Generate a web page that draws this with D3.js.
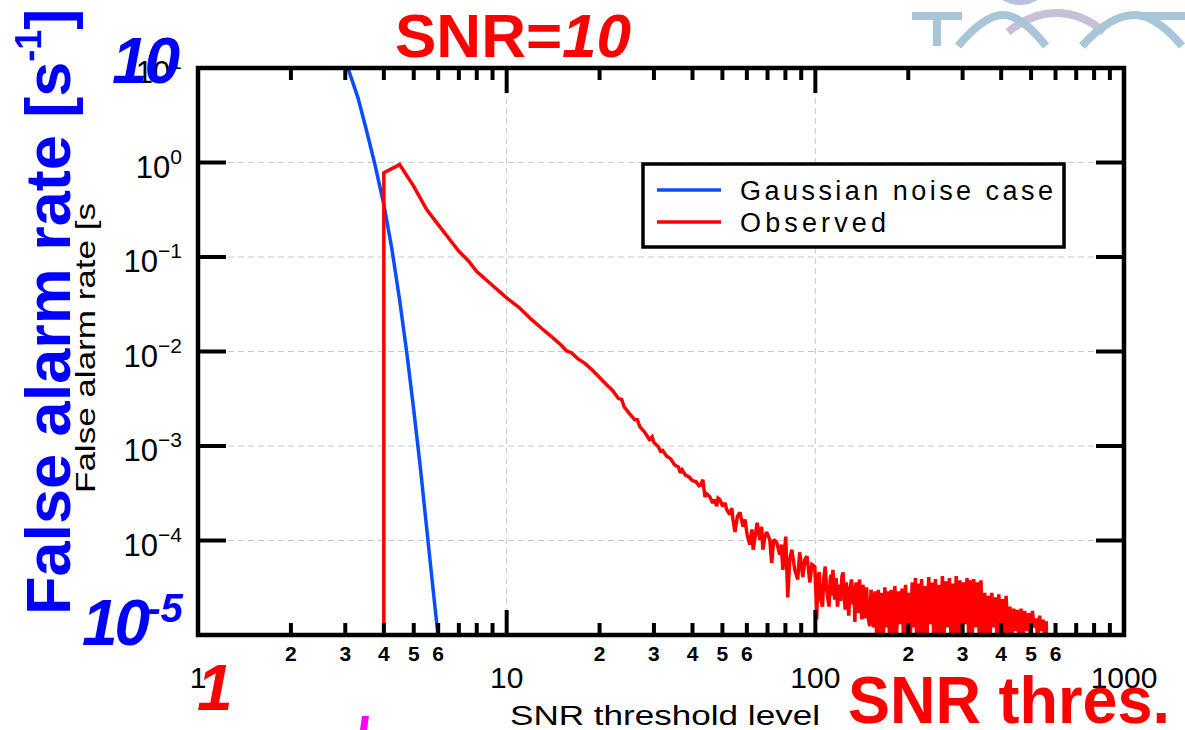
<!DOCTYPE html>
<html><head><meta charset="utf-8">
<script src="https://cdn.jsdelivr.net/npm/d3@7"></script>
<style>body{margin:0;background:#fff;overflow:hidden}</style>
</head><body>
<svg id="c" width="1185" height="730"></svg>
<script>
// ---------- data ----------
const xMajorTicks = [1, 10, 100, 1000];
const xMinorLabelDigits = [2, 3, 4, 5, 6];
const yTickExponents = [1, 0, -1, -2, -3, -4];
const legendLabels = ["Gaussian noise case", "Observed"];

const gaussianNoise = [
  [3.0,12.5],[3.06,10],[3.3,4.8],[3.5,2.3],[3.73,1.0],[4.0,0.36],[4.25,0.12],[4.5,0.035],
  [4.75,0.0095],[5.0,0.0024],[5.25,0.0006],[5.5,0.00014],[5.75,0.000035],[6.0,0.0000095]
];

const observed = [
  [4,1e-6],[4,0.78],[4.5,0.95],[5,0.56],[5.5,0.32],[6,0.22],[6.5,0.157],[7,0.115],[7.5,0.092],[8,0.07],
  [9,0.05],[10,0.037],[11,0.029],[12,0.022],[13,0.0175],[14,0.0143],[15,0.0117],[15.6,0.0102],[16.2,0.0097],
  [17,0.0084],[18,0.0074],[19,0.0063],[20,0.0053],[21,0.0045],[22,0.0039],[23,0.0032],[23.6,0.0031],
  [24,0.0026],[25,0.0022],[26,0.0019],[26.5,0.0019],[27,0.0016],[28,0.0014],[29,0.00117],[29.6,0.00125],
  [30,0.00109],[31,0.00098],[31.5,0.00088],[32,0.0009],[33,0.00078],[34,0.00073],[35,0.00063],[36,0.0006],
  [36.5,0.00052],[37,0.00056],[38,0.00049],[39,0.00047],[40,0.00043],[41,0.00042],[42,0.00038],
  [42.6,0.00039],[43.2,0.00044],[43.9,0.00029],[44.6,0.00031],[45.5,0.00029],[46.5,0.00025],[47.2,0.00027],
  [47.9,0.00023],[48.4,0.00028],[49.1,0.00027],[50.1,0.00023],[51,0.00025],[51.6,0.000213],[52.8,0.000188],
  [53.6,0.00022],[54.1,0.000167],[54.9,0.000123],[55.9,0.00018],[57,0.000198],[58.3,0.00014],[59.2,0.000167],
  [60.1,0.000116],[61.3,0.0000907],[62.3,0.000131],[62.9,0.00008],[64.8,0.000154],[66.1,0.000102],
  [67,0.00014],[67.6,0.00008],[68.7,0.00011],[69.5,0.000123],[71.2,0.000102],[72.2,0.000058],[73.3,0.000102],
  [74.9,0.000096],[76.7,0.000071],[77.6,0.0000907],[78.5,0.000049],[80.2,0.00011],[81.4,0.000025],
  [82.6,0.000063],[83.9,0.00008],[85.8,0.000049],[87.7,0.0000387],[88.5,0.00006],[89,0.000075],
  [91.1,0.000041],[92.5,0.000063],[94,0.000068],[96,0.000036],[97.5,0.0000557],[99.6,0.000053],
  [100.5,2.6e-5],[101,1.46e-5],[102,4.2e-5],[103,4.6e-5],[104,2.4e-5],[105.5,2.0e-5],[106.5,4.0e-5],
  [107.7,5.3e-5],[108.8,3.0e-5],[109.9,2.37e-5],[110.8,2.0e-5],[111.7,3.8e-5],[112.5,4.37e-5],[113.3,2.6e-5],
  [114,4.9e-5],[115,3.2e-5],[115.5,2.37e-5],[116.8,4.0e-5],[118,2.0e-5],[119.6,3.42e-5],[120.8,2.3e-5],
  [122,4.2e-5],[123,4.6e-5],[124,2.8e-5],[124.9,1.86e-5],[126,3.6e-5],[127,2.6e-5],[128.3,1.6e-5],
  [129.5,3.03e-5],[131,3.87e-5],[132.5,2.1e-5],[133.5,3.3e-5],[134.3,1.37e-5],[135.3,3.6e-5],[136.2,3.03e-5],
  [137.5,1.7e-5],[139,3.87e-5],[140.3,2.4e-5],[141.5,1.46e-5],[142.5,3.4e-5],[143.5,2.95e-5],[144.3,1.5e-5],
  [145,2.68e-5],[146.5,3.2e-5],[148,1.6e-5],[150,1.24e-5],[151.5,3.0e-5],[153,2.68e-5],[154.3,1.2e-5],
  [155.5,1.65e-5],[156.8,2.9e-5],
  [158,9e-6],[160,3.0e-5],[162,9e-6],[164,2.8e-5],[166,9e-6],[168,3.2e-5],[170,1.2e-5],[172,2.9e-5],
  [174,9e-6],[176,3.0e-5],[178,9e-6],[181,3.3e-5],[183,9e-6],[186,2.9e-5],[188,1.3e-5],[191,3.1e-5],
  [193,9e-6],[196,3.4e-5],[198,9e-6],[201,2.8e-5],[203,9e-6],[206,3.6e-5],[208,1.2e-5],[211,4.0e-5],
  [213,9e-6],[216,3.5e-5],[218,9e-6],[221,3.9e-5],[224,9e-6],[227,3.3e-5],[230,9e-6],[233,4.1e-5],
  [236,1.3e-5],[239,3.6e-5],[242,9e-6],[245,3.9e-5],[248,9e-6],[251,3.4e-5],[254,9e-6],[258,4.2e-5],
  [261,9e-6],[265,3.7e-5],[268,1.2e-5],[272,4.0e-5],[275,9e-6],[279,3.5e-5],[282,9e-6],[286,4.2e-5],
  [290,9e-6],[294,3.8e-5],[298,9e-6],[302,3.6e-5],[306,1.3e-5],[310,4.0e-5],[314,9e-6],[318,3.8e-5],
  [322,9e-6],[326,3.9e-5],[331,1.2e-5],[335,3.6e-5],[340,9e-6],[344,3.8e-5],[349,9e-6],[354,2.8e-5],
  [358,9e-6],[363,2.6e-5],[368,9e-6],[373,2.8e-5],[378,1.2e-5],[383,2.5e-5],[388,9e-6],[393,2.7e-5],
  [398,9e-6],[404,2.4e-5],[409,9e-6],[415,2.6e-5],[421,9e-6],[427,2.0e-5],[433,9e-6],[439,1.9e-5],
  [445,1.1e-5],[451,1.85e-5],[457,9e-6],[464,1.9e-5],[470,9e-6],[477,1.8e-5],[484,1.1e-5],[491,1.7e-5],
  [498,9e-6],[505,1.8e-5],[512,1.2e-5],[519,1.5e-5],[526,9e-6],[533,1.6e-5],[540,1.1e-5],[547,1.45e-5],
  [554,9e-6],[560,1.4e-5],[561,9e-6]
];

// ---------- layout ----------
const svg = d3.select("#c");
const M = {l:198, r:1124, t:68, b:635};
const x = d3.scaleLog().domain([1,1000]).range([M.l, M.r]);
const y = d3.scaleLog().domain([1e-5,10]).range([M.b, M.t]);
const BLUE = "#0a4cff", RED = "#ff0000";
const FONT = "'Liberation Sans', Arial, Helvetica, sans-serif";

svg.append("rect").attr("width",1185).attr("height",730).attr("fill","#fff");

// ---------- logo (top right) ----------
const logo = svg.append("g").attr("fill","none").attr("stroke-width",8).attr("stroke-linecap","butt");
logo.append("path").attr("d","M912,16 L962,16 M937,16 L937,46").attr("stroke","#a9c6d8");
logo.append("path").attr("d","M1008,32 C1025,18 1040,13 1056,13 C1072,13 1088,18 1104,32").attr("stroke","#c8bfd8");
logo.append("path").attr("d","M958,46 C975,26 990,15 1003,15 C1016,15 1030,26 1046,46").attr("stroke","#a9c6d8");
logo.append("path").attr("d","M1082,46 C1100,26 1118,15 1135,15 C1150,15 1165,26 1182,46 M1140,16 L1185,16").attr("stroke","#a9c6d8");
logo.append("ellipse").attr("cx",1020).attr("cy",-10).attr("rx",20).attr("ry",12).attr("stroke","#b9c2da").attr("stroke-width",6);

// ---------- grid ----------
const grid = svg.append("g").attr("stroke","#c8c8c8").attr("stroke-width",1).attr("stroke-dasharray","6,4");
yTickExponents.filter(e => e < 1 && e > -5).forEach(e => {
  grid.append("line").attr("x1",M.l).attr("x2",M.r).attr("y1",y(Math.pow(10,e))).attr("y2",y(Math.pow(10,e)));
});
xMajorTicks.filter(v => v > 1 && v < 1000).forEach(v => {
  grid.append("line").attr("x1",x(v)).attr("x2",x(v)).attr("y1",M.t).attr("y2",M.b);
});

// ---------- series ----------
svg.append("clipPath").attr("id","plotclip").append("rect")
  .attr("x",M.l).attr("y",M.t).attr("width",M.r-M.l).attr("height",M.b-M.t);
const line = d3.line().x(d => x(d[0])).y(d => y(d[1]));
const series = svg.append("g").attr("clip-path","url(#plotclip)").attr("fill","none")
  .attr("stroke-width",3.5).attr("stroke-linejoin","miter").attr("stroke-miterlimit",2);
series.append("path").attr("d", line(gaussianNoise)).attr("stroke", BLUE);
series.append("path").attr("d", line(observed)).attr("stroke", RED);

// ---------- frame & ticks ----------
const ax = svg.append("g").attr("stroke","#000").attr("stroke-width",4);
ax.append("rect").attr("x",M.l).attr("y",M.t).attr("width",M.r-M.l).attr("height",M.b-M.t)
  .attr("fill","none").attr("stroke-width",4.5);
yTickExponents.filter(e => e < 1).forEach(e => {
  const yy = y(Math.pow(10,e));
  ax.append("line").attr("x1",M.l).attr("x2",M.l+28).attr("y1",yy).attr("y2",yy);
  ax.append("line").attr("x1",M.r-28).attr("x2",M.r).attr("y1",yy).attr("y2",yy);
});
x.ticks().forEach(v => {
  const xx = x(v);
  const major = xMajorTicks.includes(v);
  const len = major ? 25 : 12;
  if (v === 1 || v === 1000) return;
  ax.append("line").attr("x1",xx).attr("x2",xx).attr("y1",M.b).attr("y2",M.b-len);
  ax.append("line").attr("x1",xx).attr("x2",xx).attr("y1",M.t).attr("y2",M.t+len);
});

// ---------- tick labels ----------
const lab = svg.append("g").attr("font-family",FONT).attr("fill","#000");
yTickExponents.forEach(e => {
  const yy = y(Math.pow(10,e));
  const t = lab.append("text").attr("x",182).attr("y",yy+15).attr("text-anchor","end").attr("font-size",31);
  t.append("tspan").text("10");
  t.append("tspan").attr("font-size",21).attr("dy",-14).text(e < 0 ? "\u2212" + Math.abs(e) : String(e));
});
xMajorTicks.forEach(v => {
  lab.append("text").attr("x",x(v)).attr("y",688).attr("text-anchor","middle").attr("font-size",30).text(v);
});
x.ticks().filter(v => !xMajorTicks.includes(v) &&
    xMinorLabelDigits.includes(Math.round(v / Math.pow(10, Math.floor(Math.log10(v)+1e-9)))))
 .forEach(v => {
  const d = Math.round(v / Math.pow(10, Math.floor(Math.log10(v)+1e-9)));
  lab.append("text").attr("x",x(v)).attr("y",661).attr("text-anchor","middle")
    .attr("font-size",21).attr("font-weight","bold").text(d);
});

// axis titles (small, black)
lab.append("text").attr("x",510).attr("y",725).attr("font-size",27)
  .attr("textLength",310).attr("lengthAdjust","spacingAndGlyphs").text("SNR threshold level");
lab.append("text").attr("transform","translate(95,493) rotate(-90)").attr("font-size",28)
  .attr("textLength",290).attr("lengthAdjust","spacingAndGlyphs").text("False alarm rate [s");

// ---------- legend ----------
const lg = svg.append("g");
lg.append("rect").attr("x",643).attr("y",164).attr("width",421).attr("height",83)
  .attr("fill","#fff").attr("stroke","#000").attr("stroke-width",3.5);
[BLUE, RED].forEach((c,i) => {
  const yy = 190 + i*32;
  lg.append("line").attr("x1",657).attr("x2",721).attr("y1",yy).attr("y2",yy).attr("stroke",c).attr("stroke-width",3.5);
});
lg.append("text").attr("x",740).attr("y",200).attr("font-family",FONT).attr("font-size",27)
  .attr("textLength",313).attr("lengthAdjust","spacing").text(legendLabels[0]);
lg.append("text").attr("x",740).attr("y",232).attr("font-family",FONT).attr("font-size",27)
  .attr("textLength",146).attr("lengthAdjust","spacing").text(legendLabels[1]);

// ---------- overlay annotations ----------
const ov = svg.append("g").attr("font-family",FONT).attr("font-weight","bold");
const title = ov.append("text").attr("x",395).attr("y",57).attr("font-size",62).attr("fill",RED);
title.append("tspan").text("SNR=");
title.append("tspan").attr("font-style","italic").text("10");

const yl = ov.append("text").attr("transform","translate(70,615) rotate(-90)").attr("font-size",63).attr("fill","#0000ff");
yl.append("tspan").text("False alarm rate [s");
yl.append("tspan").attr("font-size",36).attr("dy",-29).text("-1");
yl.append("tspan").attr("dy",29).text("]");

ov.append("text").attr("x",112).attr("y",83).attr("font-size",64).attr("font-style","italic")
  .attr("fill","#0000ff").attr("letter-spacing",-3).text("10");
const ten5 = ov.append("text").attr("x",82).attr("y",645).attr("font-size",64).attr("font-style","italic").attr("fill","#0000ff");
ten5.append("tspan").attr("letter-spacing",-3).text("10");
ten5.append("tspan").attr("font-size",40).attr("dy",-23).text("-5");

ov.append("text").attr("x",197).attr("y",710).attr("font-size",64).attr("font-style","italic").attr("fill",RED).text("1");
ov.append("text").attr("x",848).attr("y",723).attr("font-size",66).attr("fill",RED)
  .attr("textLength",322).attr("lengthAdjust","spacingAndGlyphs").text("SNR thres.");

svg.append("polygon").attr("points","362,716 369,716 367,730 360,730").attr("fill","#ff00ff");
</script>
</body></html>
